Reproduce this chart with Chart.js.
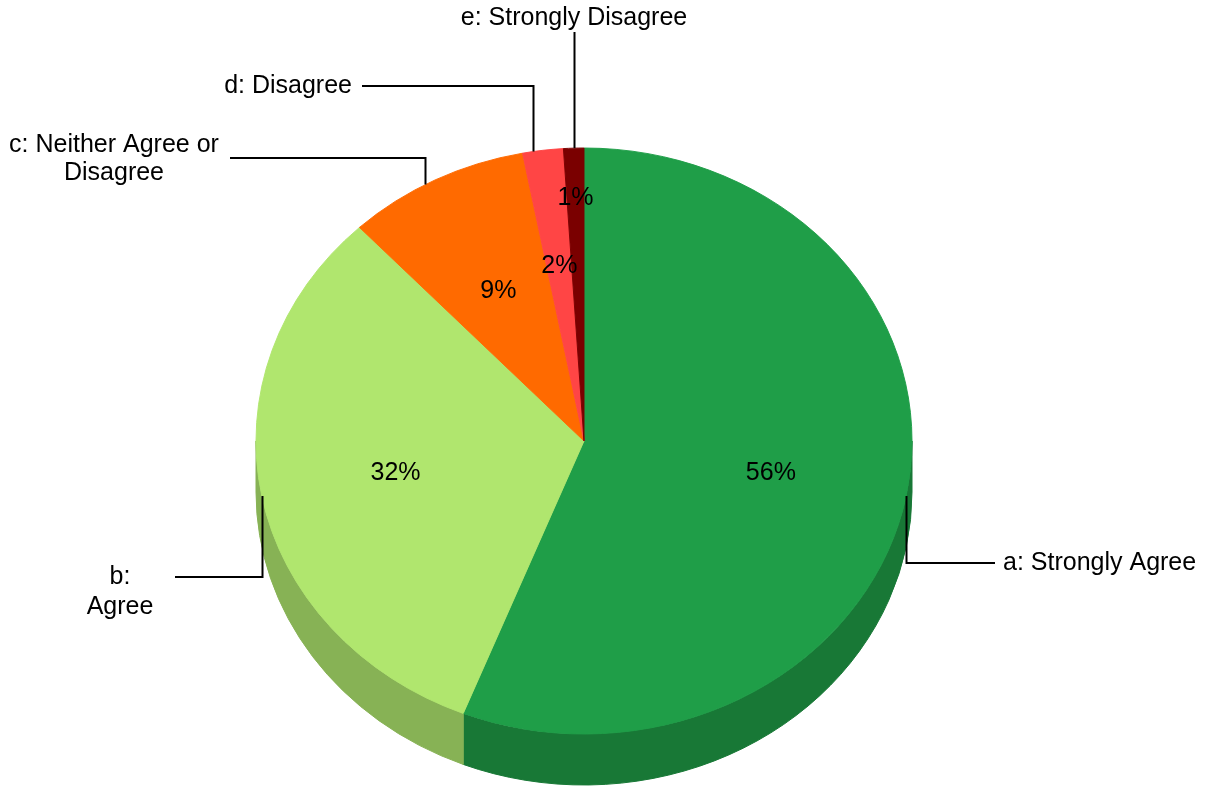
<!DOCTYPE html>
<html>
<head>
<meta charset="utf-8">
<script src="https://cdn.jsdelivr.net/npm/chart.js@4.4.0/dist/chart.umd.min.js"></script>
<style>
  html, body { margin: 0; padding: 0; background: #ffffff; }
  #wrap { width: 1210px; height: 786px; position: relative; }
</style>
</head>
<body>
<div id="wrap"><canvas id="c" width="1210" height="786"></canvas></div>
<script>
// Survey responses
const categories = ['a: Strongly Agree', 'b: Agree', 'c: Neither Agree or Disagree', 'd: Disagree', 'e: Strongly Disagree'];
const shares = [56, 32, 9, 2, 1];
const calloutText = [['a: Strongly Agree'], ['b:', 'Agree'], ['c: Neither Agree or', 'Disagree'], ['d: Disagree'], ['e: Strongly Disagree']];

// Styling
const topColors = ['#1f9e48', '#b0e66e', '#ff6a00', '#ff4545', '#7a0000'];
const sideColors = ['#187836', '#87b255', '#c45000', '#c43030', '#500000'];
const TILT = 293 / 328;     // vertical squash of the pie disc
const DEPTH = 51;           // thickness of the disc in px
const FONT = '25px "Liberation Sans", Arial, sans-serif';

// Percentage labels: distance from centre as a fraction of the radius
const valueLabelRadius = [0.58, 0.585, 0.575, 0.6, 0.83];

// Callouts: anchor on the rim (fraction along the slice), vertical run to elbowY,
// horizontal run to endX, then the text block.
const callouts = [
  { t: 0.5,  elbowY: 563, endX: 995,  textX: 1003, textY: [563],      align: 'left' },
  { t: 0.5,  elbowY: 577, endX: 175,  textX: 120,  textY: [577, 607], align: 'center' },
  { t: 0.44, elbowY: 158, endX: 230,  textX: 114,  textY: [145, 173], align: 'center' },
  { t: 0.25, elbowY: 86,  endX: 362,  textX: 352,  textY: [86],       align: 'right' },
  { t: 0.5,  elbowY: 32,  endX: null, textX: 574,  textY: [18],       align: 'center' }
];

function arcGeom(arc) {
  return arc.getProps(['x', 'y', 'startAngle', 'endAngle', 'outerRadius'], true);
}

function rimPoint(g, angle, frac) {
  const r = g.outerRadius * frac;
  return { x: g.x + r * Math.cos(angle), y: g.y + r * TILT * Math.sin(angle) };
}

const pie3d = {
  id: 'pie3d',
  beforeDatasetsDraw(chart) {
    const ctx = chart.ctx;
    const arcs = chart.getDatasetMeta(0).data;
    // side walls for the part of the rim facing the viewer (0..PI)
    ctx.save();
    arcs.forEach((arc, i) => {
      const g = arcGeom(arc);
      for (const off of [0, 2 * Math.PI, -2 * Math.PI]) {
        const s = Math.max(g.startAngle + off, 0);
        const e = Math.min(g.endAngle + off, Math.PI);
        if (e <= s) continue;
        ctx.beginPath();
        ctx.ellipse(g.x, g.y, g.outerRadius, g.outerRadius * TILT, 0, s, e);
        ctx.ellipse(g.x, g.y + DEPTH, g.outerRadius, g.outerRadius * TILT, 0, e, s, true);
        ctx.closePath();
        ctx.fillStyle = sideColors[i];
        ctx.strokeStyle = sideColors[i];
        ctx.lineWidth = 1;
        ctx.fill();
        ctx.stroke();
      }
    });
    ctx.restore();
    // squash the top face into an ellipse
    const cy = arcs[0].y;
    ctx.save();
    ctx.translate(0, cy);
    ctx.scale(1, TILT);
    ctx.translate(0, -cy);
  },
  afterDatasetsDraw(chart) {
    const ctx = chart.ctx;
    ctx.restore();
    const arcs = chart.getDatasetMeta(0).data;
    const total = shares.reduce((a, b) => a + b, 0);

    ctx.save();
    ctx.font = FONT;
    ctx.fillStyle = '#000000';
    ctx.textBaseline = 'middle';

    // percentage labels on the slices
    arcs.forEach((arc, i) => {
      const g = arcGeom(arc);
      const mid = (g.startAngle + g.endAngle) / 2;
      const p = rimPoint(g, mid, valueLabelRadius[i]);
      ctx.textAlign = 'center';
      ctx.fillText(Math.round(shares[i] / total * 100) + '%', p.x, p.y);
    });

    // callout leaders and category names
    ctx.strokeStyle = '#000000';
    ctx.lineWidth = 2;
    arcs.forEach((arc, i) => {
      const g = arcGeom(arc);
      const c = callouts[i];
      const ang = g.startAngle + (g.endAngle - g.startAngle) * c.t;
      const p = rimPoint(g, ang, 1);
      const x0 = Math.round(p.x) + 0.5;
      ctx.beginPath();
      ctx.moveTo(x0, p.y);
      ctx.lineTo(x0, c.elbowY);
      if (c.endX !== null) ctx.lineTo(c.endX, c.elbowY);
      ctx.stroke();
      ctx.textAlign = c.align;
      calloutText[i].forEach((line, j) => ctx.fillText(line, c.textX, c.textY[j]));
    });
    ctx.restore();
  }
};

new Chart(document.getElementById('c'), {
  type: 'pie',
  data: {
    labels: categories,
    datasets: [{
      data: shares,
      backgroundColor: topColors,
      borderColor: topColors,
      borderWidth: 1
    }]
  },
  options: {
    responsive: false,
    animation: false,
    layout: { padding: { left: 255.5, right: 297.5, top: 112.5, bottom: 16.5 } },
    plugins: { legend: { display: false }, tooltip: { enabled: false } }
  },
  plugins: [pie3d]
});
</script>
</body>
</html>
